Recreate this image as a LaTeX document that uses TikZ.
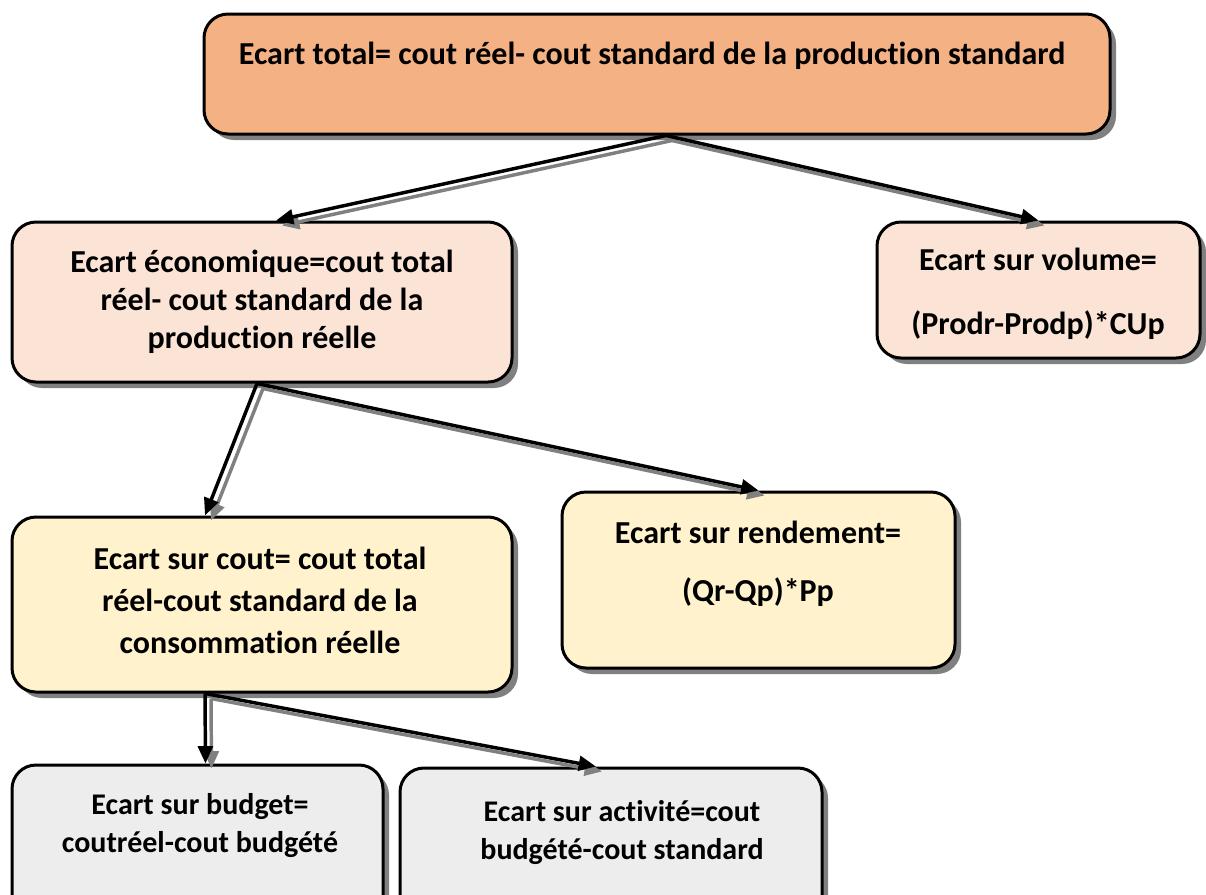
\documentclass[tikz,border=0pt]{standalone}
\usepackage{fontspec}
\setmainfont[RawFeature={-liga;-clig;-calt;-dlig}]{Carlito}
\usetikzlibrary{arrows.meta,shadows}

\definecolor{orangebox}{HTML}{F4B183}
\definecolor{peachbox}{HTML}{FBE4D5}
\definecolor{creambox}{HTML}{FFF2CC}
\definecolor{greybox}{HTML}{EDEDED}
\definecolor{shadowgrey}{HTML}{808080}

\tikzset{
    ecartbox/.style={draw=black, line width=2.25pt, rounded corners=18pt,
        drop shadow={shadow xshift=4.5pt, shadow yshift=-4.5pt, fill=shadowgrey, opacity=1}},
    ecarttxt/.style={align=center, font=\fontsize{24}{28.5}\selectfont\bfseries},
    smalltxt/.style={ecarttxt, font=\fontsize{22.5}{28.5}\selectfont\bfseries},
    link/.style={line width=2.6pt, -{Triangle[length=13pt,width=11pt]}},
}

\newcommand{\shadowlink}[2]{%
    \draw[link, shadowgrey, transform canvas={shift={(4.5pt,-3.75pt)}}] #1 -- #2;
    \draw[link, black] #1 -- #2;}

\begin{document}
\begin{tikzpicture}[x=0.75pt, y=-0.75pt]
    \useasboundingbox (0,0) rectangle (1206,894);
    \clip (0,0) rectangle (1206,894);

    % Boxes
    \node[ecartbox, fill=orangebox, minimum width=679.5pt, minimum height=90pt] (total) at (657,74) {};
    \node[ecartbox, fill=peachbox, minimum width=375pt, minimum height=120pt] (eco) at (262,302) {};
    \node[ecartbox, fill=peachbox, minimum width=242.25pt, minimum height=102pt] (volume) at (1038.5,290) {};
    \node[ecartbox, fill=creambox, minimum width=375pt, minimum height=131.25pt] (cout) at (262,604.5) {};
    \node[ecartbox, fill=creambox, minimum width=294.75pt, minimum height=132pt] (rendement) at (758.5,580) {};
    \node[ecartbox, fill=greybox, minimum width=278.25pt, minimum height=123.75pt] (budget) at (197.5,847.5) {};
    \node[ecartbox, fill=greybox, minimum width=316.5pt, minimum height=121.5pt] (activite) at (611,849) {};

    % Texts
    \node[ecarttxt] (total-t) at (652,56) {Ecart total= cout réel- cout standard de la production standard};
    \node[ecarttxt] (eco-t) at (262,302) {Ecart économique=cout total\\réel- cout standard de la\\production réelle};
    \node[ecarttxt] (volume-t) at (1038,294) {Ecart sur volume=\\[19.5pt](Prodr-Prodp)*CUp};
    \node[ecarttxt] (cout-t) at (260,600) {Ecart sur cout= cout total\\[3pt]réel-cout standard de la\\[3pt]consommation réelle};
    \node[ecarttxt] (rendement-t) at (758,564) {Ecart sur rendement=\\[15pt](Qr-Qp)*Pp};
    \node[smalltxt] (budget-t) at (200,825) {Ecart sur budget=\\coutréel-cout budgété};
    \node[smalltxt] (activite-t) at (622,832) {Ecart sur activité=cout\\budgété-cout standard};

    % Connectors
    \shadowlink{([xshift=6.75pt]total.south)}{([xshift=10.5pt]eco.north)}
    \shadowlink{([xshift=6.75pt]total.south)}{(volume.north)}
    \shadowlink{([xshift=-3.75pt]eco.south)}{([xshift=-42.75pt]cout.north)}
    \shadowlink{([xshift=-3.75pt]eco.south)}{(rendement.north)}
    \shadowlink{([xshift=-42.75pt]cout.south)}{([xshift=6pt]budget.north)}
    \shadowlink{([xshift=-42.75pt]cout.south)}{([xshift=-11.25pt]activite.north)}
\end{tikzpicture}
\end{document}
